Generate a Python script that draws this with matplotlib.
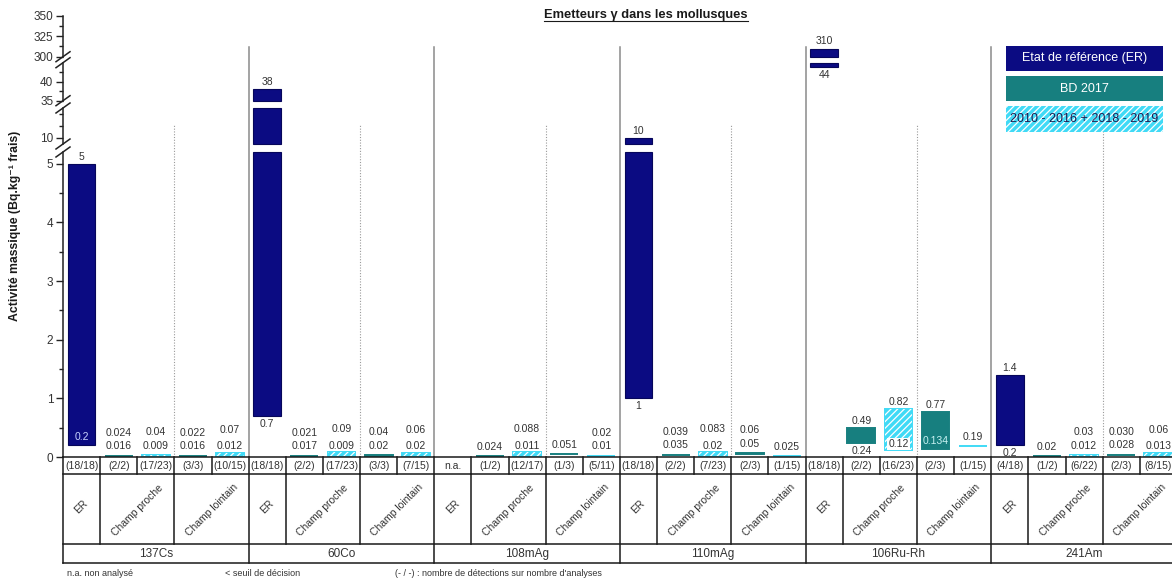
import numpy as np
import matplotlib.pyplot as plt
from matplotlib.patches import Rectangle
from matplotlib.lines import Line2D
from matplotlib.transforms import IdentityTransform, blended_transform_factory

plt.rcParams['font.family'] = ['Liberation Sans', 'DejaVu Sans']
plt.rcParams['hatch.linewidth'] = 0.9

# ---- data -------------------------------------------------------------
nuclides = ["137Cs", "60Co", "108mAg", "110mAg", "106Ru-Rh", "241Am"]
# columns of each group: ER, Champ proche (BD 2017, 2010-2019), Champ lointain (BD 2017, 2010-2019)
series = ["ER", "BD", "HIST", "BD", "HIST"]

low = [
    ["0.2", "0.016", "0.009", "0.016", "0.012"],
    ["0.7", "0.017", "0.009", "0.02", "0.02"],
    [None, "0.024", "0.011", "0.051", "0.01"],
    ["1", "0.035", "0.02", "0.05", "0.025"],
    ["44", "0.24", "0.12", "0.134", "0.19"],
    ["0.2", "0.02", "0.012", "0.028", "0.013"],
]
high = [
    ["5", "0.024", "0.04", "0.022", "0.07"],
    ["38", "0.021", "0.09", "0.04", "0.06"],
    [None, "0.024", "0.088", "0.051", "0.02"],
    ["10", "0.039", "0.083", "0.06", "0.025"],
    ["310", "0.49", "0.82", "0.77", "0.19"],
    ["1.4", "0.02", "0.03", "0.030", "0.06"],
]
counts = [
    ["(18/18)", "(2/2)", "(17/23)", "(3/3)", "(10/15)"],
    ["(18/18)", "(2/2)", "(17/23)", "(3/3)", "(7/15)"],
    ["n.a.", "(1/2)", "(12/17)", "(1/3)", "(5/11)"],
    ["(18/18)", "(2/2)", "(7/23)", "(2/3)", "(1/15)"],
    ["(18/18)", "(2/2)", "(16/23)", "(2/3)", "(1/15)"],
    ["(4/18)", "(1/2)", "(6/22)", "(2/3)", "(8/15)"],
]
# min labels written inside the bar
inside_min = {(0, 0), (4, 2), (4, 3)}

major_ticks = [0, 1, 2, 3, 4, 5, 10, 35, 40, 300, 325, 350]
minor_ticks = [0.5, 1.5, 2.5, 3.5, 4.5, 12, 14, 37.5, 42.5, 312.5, 337.5]

# broken axis: value ranges shown and their height in pixels
segs = [(0, 5.2), (9, 15), (35, 45), (300, 350)]
brk_v = [0, 5.2, 9, 15, 35, 45, 300, 350]
brk_p = [0, 305, 313, 349, 356.3, 394.3, 400.3, 441.3]

NAVY = "#0b0b82"
TEAL = "#177f7f"
CYAN = "#40daf6"
colors = {"ER": NAVY, "BD": TEAL, "HIST": CYAN}


def fwd(v):
    return np.interp(v, brk_v, brk_p)


def inv(p):
    return np.interp(p, brk_p, brk_v)


# ---- layout -----------------------------------------------------------
W, H = 1172, 580
x0, x1 = 63, 1172
ybot, ytop = 457, 15.7
col_w = 37.13
ncols = (x1 - x0) / col_w
axw, axh = x1 - x0, ybot - ytop

fig = plt.figure(figsize=(W / 100, H / 100), dpi=100)
ax = fig.add_axes([x0 / W, 1 - ybot / H, axw / W, axh / H])
ax.set_yscale('function', functions=(fwd, inv))
ax.set_ylim(0, 350)
ax.set_xlim(0, ncols)
for s in ax.spines.values():
    s.set_visible(False)
ax.set_xticks([])
ax.set_yticks(major_ticks, labels=[str(t) for t in major_ticks])
ax.set_yticks(minor_ticks, minor=True)
ax.tick_params(axis='y', which='major', length=5, width=1, labelsize=8.5,
               labelcolor='#333333', color='#222222', pad=2)
ax.tick_params(axis='y', which='minor', length=3, width=1, color='#222222')

# axis line with break marks
tr = blended_transform_factory(ax.transAxes, ax.transData)
for a, b in segs:
    ax.plot([0, 0], [a, b], transform=tr, color='#222222', lw=1.1, clip_on=False)
fx, fy = 7 / axw, 5 / axh
for i in range(len(segs) - 1):
    for v in (segs[i][1], segs[i + 1][0]):
        yf = fwd(v) / axh
        ax.plot([-fx, fx], [yf - fy, yf + fy], transform=ax.transAxes,
                color='#222222', lw=1.1, clip_on=False)

# separators
for g in range(1, 6):
    ax.axvline(g * 5, ymin=0, ymax=(ybot - 47) / axh, color='#8a8a8a', lw=1.1, zorder=1)
for g in range(6):
    ax.axvline(g * 5 + 3, ymin=0, ymax=(ybot - 125) / axh, color='#9a9a9a',
               lw=0.8, ls=(0, (1, 1.5)), zorder=1)

bw = 0.75


def label(x, v, txt, dy, color='#333333', bbox=None):
    ax.annotate(txt, xy=(x, v), xytext=(0, dy), textcoords='offset pixels',
                ha='center', va='center', fontsize=7.5, color=color, bbox=bbox,
                zorder=5, annotation_clip=False)


for g in range(6):
    for c in range(5):
        if low[g][c] is None:
            continue
        lo, hi = float(low[g][c]), float(high[g][c])
        x = g * 5 + c + 0.5
        kind = series[c]
        col = colors[kind]
        for a, b in segs:
            s0, s1 = max(lo, a), min(hi, b)
            if s0 > s1:
                continue
            if kind == "ER":
                ax.bar(x, s1 - s0, bottom=s0, width=bw, color=col,
                       edgecolor='#06065a', linewidth=0.8, zorder=2)
            elif kind == "BD":
                ax.bar(x, s1 - s0, bottom=s0, width=bw, color=col,
                       edgecolor=col, linewidth=1.4, zorder=2)
            else:
                ax.bar(x, s1 - s0, bottom=s0, width=bw, color=col,
                       edgecolor=col, linewidth=1.4, zorder=2)
                ax.bar(x, s1 - s0, bottom=s0, width=bw, facecolor='none',
                       edgecolor='white', hatch='/////', linewidth=0, zorder=3)
        hpx = fwd(hi) - fwd(lo)
        if low[g][c] == high[g][c]:
            label(x, hi, high[g][c], 9)
        elif hpx < 10:
            label(x, hi, high[g][c], 23)
            label(x, lo, low[g][c], 10)
        else:
            label(x, hi, high[g][c], 7)
            if (g, c) in inside_min:
                if kind == "ER":
                    label(x, lo, low[g][c], 8, color='#c9d3ff')
                elif kind == "BD":
                    label(x, lo, low[g][c], 8, color='#c8f2f2')
                else:
                    label(x, lo, low[g][c], 6, color='#333333',
                          bbox=dict(boxstyle='square,pad=0.1', fc='white', ec='none'))
            else:
                label(x, lo, low[g][c], -8)

# ---- table under the chart ---------------------------------------------
r0, r1, r2, r3 = 457, 474, 544, 563
axt = fig.add_axes([x0 / W, 1 - r3 / H, axw / W, (r3 - r0) / H])
axt.set_xlim(0, ncols)
axt.set_ylim(r3, r0)
axt.axis('off')
lk = dict(color='#1a1a1a', lw=1.1, clip_on=False, solid_capstyle='projecting')
for yy in (r0, r1, r2, r3):
    axt.plot([0, 30], [yy, yy], **lk)
for k in range(31):
    if k % 5 == 0:
        axt.plot([k, k], [r0, r3], **lk)
    else:
        axt.plot([k, k], [r0, r1], **lk)
        if k % 5 in (1, 3):
            axt.plot([k, k], [r1, r2], **lk)
for g in range(6):
    for c in range(5):
        axt.text(g * 5 + c + 0.5, (r0 + r1) / 2 + 0.5, counts[g][c], ha='center',
                 va='center', fontsize=7.5, color='#333333', clip_on=False)
    mid = (r1 + r2) / 2
    axt.text(g * 5 + 0.5, mid - 2, "ER", rotation=45, ha='center', va='center',
             fontsize=7.5, color='#333333', rotation_mode='anchor')
    axt.text(g * 5 + 2, mid + 1, "Champ proche", rotation=45, ha='center',
             va='center', fontsize=7.5, color='#333333', rotation_mode='anchor')
    axt.text(g * 5 + 4, mid + 1, "Champ lointain", rotation=45, ha='center',
             va='center', fontsize=7.5, color='#333333', rotation_mode='anchor')
    axt.text(g * 5 + 2.5, (r2 + r3) / 2 + 0.5, nuclides[g], ha='center',
             va='center', fontsize=8.5, color='#333333')

# ---- legend ------------------------------------------------------------
leg_items = [("Etat de référence (ER)", NAVY, None, 'white'),
             ("BD 2017", TEAL, None, 'white'),
             ("2010 - 2016 + 2018 - 2019", CYAN, '/////', '#1c1c50')]
lx0, lx1 = 1006, 1163
ly = [(45.7, 71), (76, 101), (106, 131.7)]
for (txt, fc, hatch, tc), (ya, yb) in zip(leg_items, ly):
    fig.add_artist(Rectangle((lx0 / W, 1 - yb / H), (lx1 - lx0) / W, (yb - ya) / H,
                             transform=fig.transFigure, facecolor=fc,
                             edgecolor='white' if hatch else fc,
                             hatch=hatch, linewidth=0))
    fig.text((lx0 + lx1) / 2 / W, 1 - (ya + yb) / 2 / H, txt, ha='center',
             va='center', fontsize=9, color=tc)

# ---- titles and notes ---------------------------------------------------
t = fig.text(646 / W, 1 - 15 / H, "Emetteurs γ dans les mollusques", ha='center',
             va='center', fontsize=9.3, fontweight='bold', color='#1a1a1a')
fig.text(15 / W, 1 - 226 / H, "Activité massique (Bq.kg⁻¹ frais)", rotation=90,
         ha='center', va='center', fontsize=8.8, fontweight='bold', color='#1a1a1a')
fig.text(67 / W, 1 - 573 / H, "n.a. non analysé", fontsize=6.5, color='#333333', va='center')
fig.text(225 / W, 1 - 573 / H, "< seuil de décision", fontsize=6.5, color='#333333', va='center')
fig.text(395 / W, 1 - 573 / H, "(- / -) : nombre de détections sur nombre d'analyses",
         fontsize=6.5, color='#333333', va='center')

fig.canvas.draw()
bb = t.get_window_extent()
fig.add_artist(Line2D([bb.x0, bb.x1], [bb.y0 + 0.5, bb.y0 + 0.5],
                      transform=IdentityTransform(), color='#1a1a1a', lw=0.8))

fig.savefig("out.png", dpi=100)
